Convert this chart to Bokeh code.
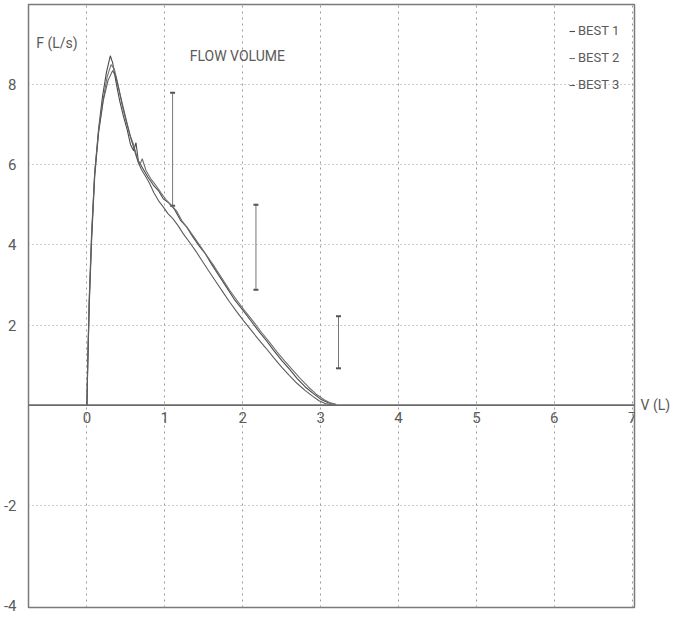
from bokeh.plotting import figure
from bokeh.models import (FixedTicker, LinearAxis, Span, Whisker, ColumnDataSource,
                          Legend, LegendItem, TeeHead)
from bokeh.core.properties import value
from bokeh.embed import file_html
from bokeh.resources import INLINE

# ---- data ----
x_ticks = [0, 1, 2, 3, 4, 5, 6, 7]
x_tick_labels = ["0", "1", "2", "3", "4", "5", "6", "7"]
y_ticks = [-5, -2.5, 2, 4, 6, 8]
y_tick_labels = {-5: "-4", -2.5: "-2", 2: "2", 4: "4", 6: "6", 8: "8"}

series_names = ["BEST 1", "BEST 2", "BEST 3"]
v1 = [0.00, 0.01, 0.03, 0.06, 0.10, 0.15, 0.20, 0.25, 0.30, 0.33, 0.37, 0.42, 0.47, 0.52, 0.56, 0.60,
      0.63, 0.66, 0.72, 0.78, 0.85, 0.92, 0.98, 1.05, 1.12, 1.20, 1.28, 1.36, 1.45, 1.52, 1.60, 1.70,
      1.80, 1.90, 2.00, 2.10, 2.20, 2.30, 2.40, 2.50, 2.60, 2.70, 2.80, 2.90, 3.00, 3.10, 3.18]
f1 = [0.0, 1.0, 2.6, 4.2, 5.8, 6.9, 7.7, 8.3, 8.72, 8.55, 8.1, 7.6, 7.2, 6.85, 6.5, 6.35,
      6.55, 6.1, 5.9, 5.7, 5.5, 5.35, 5.15, 5.05, 4.9, 4.62, 4.45, 4.2, 3.95, 3.78, 3.52, 3.22,
      2.92, 2.62, 2.38, 2.12, 1.86, 1.62, 1.36, 1.12, 0.9, 0.66, 0.46, 0.3, 0.15, 0.06, 0.02]
v2 = [0.00, 0.01, 0.03, 0.06, 0.10, 0.15, 0.21, 0.26, 0.31, 0.35, 0.40, 0.45, 0.50, 0.55, 0.60, 0.64,
      0.68, 0.71, 0.76, 0.82, 0.88, 0.95, 1.02, 1.08, 1.15, 1.22, 1.30, 1.38, 1.46, 1.55, 1.64, 1.74,
      1.84, 1.94, 2.04, 2.14, 2.24, 2.34, 2.44, 2.54, 2.64, 2.74, 2.84, 2.94, 3.04, 3.12, 3.20]
f2 = [0.0, 1.1, 2.7, 4.3, 5.8, 6.85, 7.65, 8.2, 8.5, 8.4, 8.0, 7.5, 7.1, 6.75, 6.5, 6.2,
      6.0, 6.15, 5.85, 5.65, 5.5, 5.3, 5.12, 5.0, 4.85, 4.6, 4.4, 4.18, 3.96, 3.7, 3.45, 3.15,
      2.85, 2.58, 2.32, 2.08, 1.82, 1.58, 1.33, 1.1, 0.88, 0.66, 0.46, 0.28, 0.14, 0.06, 0.02]
v3 = [0.00, 0.01, 0.03, 0.06, 0.10, 0.15, 0.21, 0.27, 0.33, 0.37, 0.42, 0.47, 0.52, 0.57, 0.62, 0.66,
      0.70, 0.75, 0.80, 0.86, 0.92, 0.98, 1.04, 1.10, 1.17, 1.24, 1.32, 1.40, 1.48, 1.56, 1.65, 1.74,
      1.83, 1.92, 2.01, 2.10, 2.20, 2.30, 2.40, 2.50, 2.60, 2.70, 2.80, 2.90, 2.98, 3.06, 3.14]
f3 = [0.0, 0.9, 2.5, 4.1, 5.7, 6.8, 7.6, 8.1, 8.35, 8.2, 7.8, 7.4, 7.0, 6.62, 6.3, 6.05,
      5.88, 5.72, 5.55, 5.3, 5.1, 4.95, 4.78, 4.66, 4.48, 4.27, 4.06, 3.84, 3.6, 3.36, 3.1, 2.84,
      2.58, 2.34, 2.11, 1.89, 1.65, 1.42, 1.18, 0.95, 0.74, 0.54, 0.37, 0.22, 0.11, 0.04, 0.01]

# predicted ranges (error bars)
bar_v = [1.10, 2.17, 3.23]
bar_upper = [7.8, 5.0, 2.22]
bar_lower = [4.98, 2.88, 0.92]

FONT = "Roboto"
TXT = "#5a5a5a"
LINE_COLORS = ["#4a4a4a", "#707070", "#5c5c5c"]

p = figure(frame_width=606, frame_height=603, output_backend="svg", toolbar_location=None,
           x_range=(-0.75, 7.03), y_range=(-5.05, 10.0),
           min_border_top=4, min_border_left=19, min_border_right=30, min_border_bottom=8,
           background_fill_color="white", border_fill_color="white")
p.outline_line_color = "#7a7a7a"
p.outline_line_width = 1.5

p.xaxis.visible = False
p.yaxis.ticker = FixedTicker(ticks=y_ticks)
p.yaxis.major_label_overrides = y_tick_labels
p.yaxis.axis_line_color = None
p.yaxis.major_tick_line_color = None
p.yaxis.minor_tick_line_color = None
p.yaxis.major_label_standoff = 6
p.yaxis.major_label_text_font = FONT
p.yaxis.major_label_text_font_size = "15px"
p.yaxis.major_label_text_color = TXT

p.xgrid.ticker = FixedTicker(ticks=x_ticks)
p.xgrid.grid_line_color = "#9a9a9a"
p.xgrid.grid_line_dash = "2 4"
p.ygrid.ticker = FixedTicker(ticks=[-2.5, 2, 4, 6, 8])
p.ygrid.grid_line_color = "#9a9a9a"
p.ygrid.grid_line_dash = "1 3"

# x axis line at zero
p.add_layout(Span(location=0, dimension="width", line_color="#6a6a6a", line_width=1.6))

# right axis carrying the "V (L)" label at y = 0
vaxis = LinearAxis(ticker=FixedTicker(ticks=[0]), major_label_overrides={0: "V (L)"},
                   axis_line_color=None, major_tick_line_color=None, minor_tick_line_color=None,
                   major_tick_out=0, major_tick_in=0, minor_tick_out=0,
                   major_label_standoff=6, major_label_text_font=FONT,
                   major_label_text_font_size="14px", major_label_text_color=TXT)
p.add_layout(vaxis, "right")

# x tick labels just below the zero line
p.text(x=x_ticks, y=[-0.3] * len(x_ticks), text=x_tick_labels, text_font=value(FONT),
       text_font_size="15px", text_color=TXT, text_align="center", text_baseline="middle")

# texts
p.text(x=[-0.65], y=[9.05], text=["F (L/s)"], text_font=value(FONT), text_font_size="14px",
       text_color=TXT, text_align="left", text_baseline="middle")
p.text(x=[1.32], y=[8.72], text=["FLOW VOLUME"], text_font=value(FONT), text_font_size="14px",
       text_color=TXT, text_align="left", text_baseline="middle")

# curves
renderers = []
for vv, ff, c in zip([v1, v2, v3], [f1, f2, f3], LINE_COLORS):
    r = p.line(vv, ff, line_color=c, line_width=1.1)
    renderers.append(r)

# error bars
src = ColumnDataSource(dict(base=bar_v, upper=bar_upper, lower=bar_lower))
p.add_layout(Whisker(source=src, base="base", upper="upper", lower="lower", dimension="height",
                     line_color="#777777", line_width=1,
                     upper_head=TeeHead(size=5, line_color="#555555", line_width=2),
                     lower_head=TeeHead(size=5, line_color="#555555", line_width=2)))

legend = Legend(items=[LegendItem(label=n, renderers=[r]) for n, r in zip(series_names, renderers)],
                location=(541, 515), glyph_width=6, glyph_height=14, label_height=14,
                label_standoff=3, spacing=12, padding=0, margin=0,
                label_text_font=FONT, label_text_font_size="13px", label_text_color=TXT,
                background_fill_alpha=0, border_line_color=None)
p.add_layout(legend)

open("out.html", "w").write(file_html(p, INLINE))
